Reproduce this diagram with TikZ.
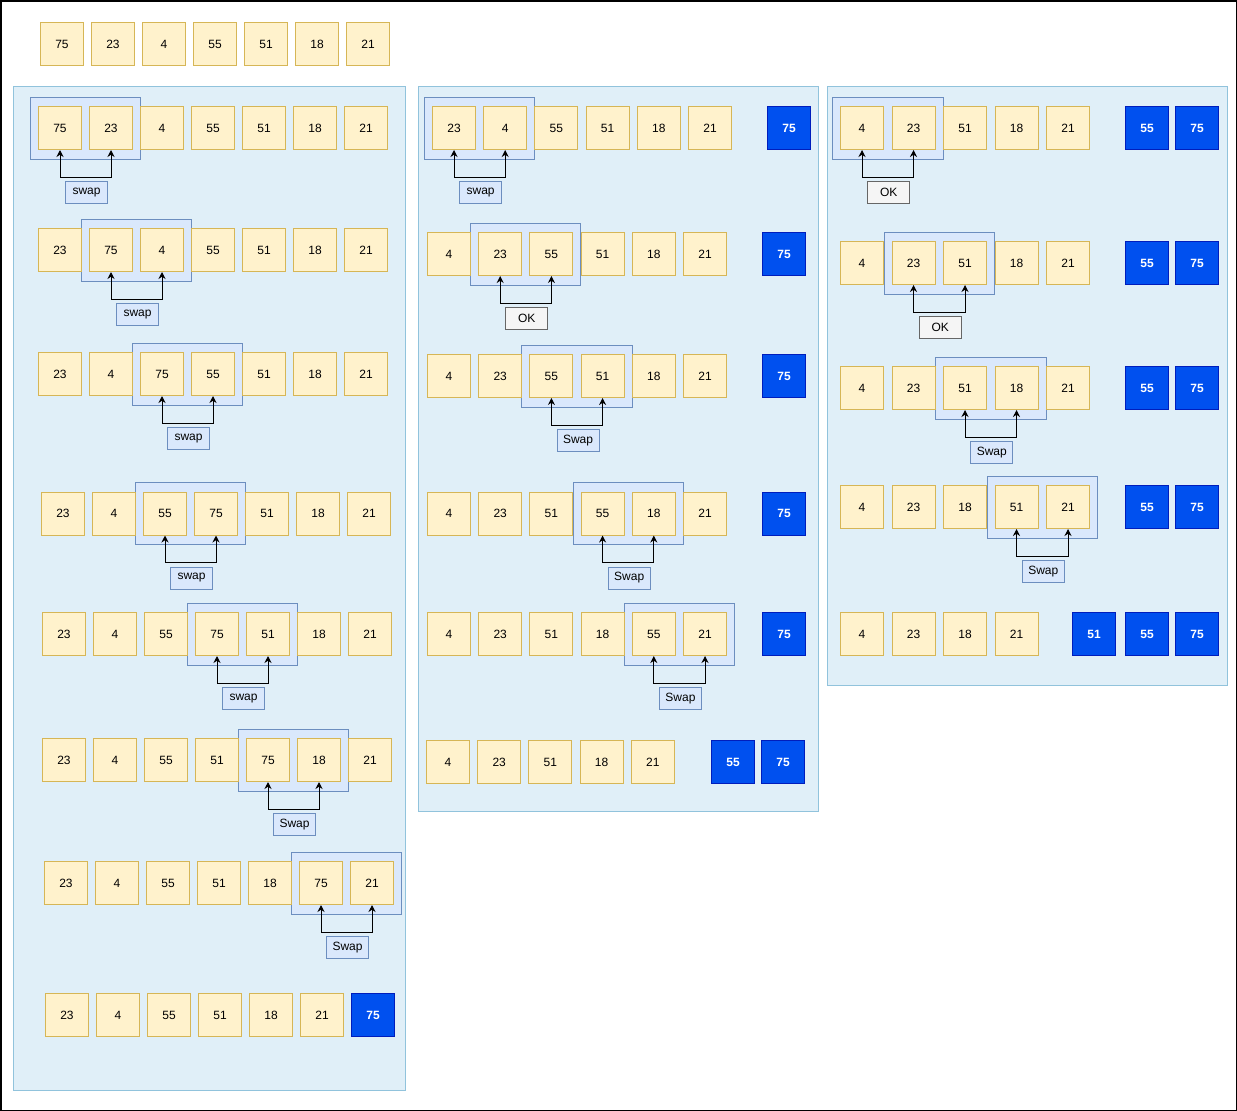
\documentclass[tikz,border=0pt]{standalone}
\usepackage{fontspec}
\setmainfont{Liberation Sans}
\usepackage{tikz}
\usetikzlibrary{arrows.meta}
\usetikzlibrary{fit}
\usetikzlibrary{positioning}
\definecolor{numfill}{HTML}{FFF2CC}
\definecolor{numline}{HTML}{D6B656}
\definecolor{finfill}{HTML}{0050EF}
\definecolor{finline}{HTML}{001DBC}
\definecolor{pairfill}{HTML}{DAE8FC}
\definecolor{pairline}{HTML}{6C8EBF}
\definecolor{okfill}{HTML}{F5F5F5}
\definecolor{okline}{HTML}{666666}
\definecolor{panelfill}{RGB}{224,239,248}
\definecolor{panelline}{RGB}{145,195,220}
\pgfdeclarelayer{back}
\pgfsetlayers{back,main}
\tikzstyle{num}=[draw=numline,fill=numfill,line width=1pt,minimum size=43pt,inner sep=0pt,font=\fontsize{12}{14}\selectfont]
\tikzstyle{fin}=[num,draw=finline,fill=finfill,text=white,font=\fontsize{12}{14}\selectfont\bfseries]
\tikzstyle{pair}=[draw=pairline,fill=pairfill,line width=1pt,inner xsep=7.5pt,inner ysep=9pt]
\tikzstyle{note}=[draw,line width=1pt,minimum width=42pt,minimum height=22pt,inner xsep=5pt,inner ysep=0pt,font=\fontsize{12}{14}\selectfont]
\tikzstyle{swp}=[note,draw=pairline,fill=pairfill]
\tikzstyle{ok}=[note,draw=okline,fill=okfill]
\tikzstyle{lnk}=[line width=1pt,{Stealth[length=7pt,width=7pt]}-{Stealth[length=7pt,width=7pt]}]
\tikzstyle{panel}=[draw=panelline,fill=panelfill,line width=1pt]
% one row of unsorted values, one row of sorted values, one comparison
\newcommand\numrow[5][51]{\foreach \v [count=\i] in {#5}
  \node[num] (#2-\i) at ({#3+#1*(\i-1)},#4) {\v};}
\newcommand\finrow[3]{\foreach \x/\v [count=\i] in {#3}
  \node[fin] (#1-f\i) at (\x,#2) {\v};}
\newcommand\cmp[5]{%
  \begin{pgfonlayer}{back}\node[pair,fit=(#1-#2)(#1-#3)] (#1-p) {};\end{pgfonlayer}
  \draw[lnk] (#1-#2.south) -- ++(0,27) -| node[pos=.26,below=4pt,#5] (#1-n) {#4} (#1-#3.south);}
\begin{document}
\begin{tikzpicture}[x=1pt,y=-1pt]
	\useasboundingbox (0,0) rectangle (1237,1111);
	\draw[line width=1.5pt] (0.75,0.75) rectangle (1236.25,1110.25);
	\begin{pgfonlayer}{back}
	  \draw[panel] (13.5,86.5) rectangle (405.5,1090);
	  \draw[panel] (418.5,86.5) rectangle (818.5,811);
	  \draw[panel] (827.5,86.5) rectangle (1227.5,685.5);
	\end{pgfonlayer}
	\numrow{t}{62}{44}{75,23,4,55,51,18,21}
	% first pass
	\numrow{a1}{60}{128}{75,23,4,55,51,18,21}   \cmp{a1}{1}{2}{swap}{swp}
	\numrow{a2}{60}{250}{23,75,4,55,51,18,21}   \cmp{a2}{2}{3}{swap}{swp}
	\numrow{a3}{60}{374}{23,4,75,55,51,18,21}   \cmp{a3}{3}{4}{swap}{swp}
	\numrow{a4}{63}{513.5}{23,4,55,75,51,18,21} \cmp{a4}{3}{4}{swap}{swp}
	\numrow{a5}{64}{634}{23,4,55,75,51,18,21}   \cmp{a5}{4}{5}{swap}{swp}
	\numrow{a6}{64}{760}{23,4,55,51,75,18,21}   \cmp{a6}{5}{6}{Swap}{swp}
	\numrow{a7}{66}{883}{23,4,55,51,18,75,21}   \cmp{a7}{6}{7}{Swap}{swp}
	\numrow{a8}{67}{1015}{23,4,55,51,18,21}     \finrow{a8}{1015}{373/75}
	% second pass
	\numrow[51.2]{b1}{454}{128}{23,4,55,51,18,21}   \finrow{b1}{128}{789/75}   \cmp{b1}{1}{2}{swap}{swp}
	\numrow[51.2]{b2}{449}{254}{4,23,55,51,18,21}   \finrow{b2}{254}{784/75}   \cmp{b2}{2}{3}{OK}{ok}
	\numrow[51.2]{b3}{449}{376}{4,23,55,51,18,21}   \finrow{b3}{376}{784/75}   \cmp{b3}{3}{4}{Swap}{swp}
	\numrow[51.2]{b4}{449}{513.5}{4,23,51,55,18,21} \finrow{b4}{513.5}{784/75} \cmp{b4}{4}{5}{Swap}{swp}
	\numrow[51.2]{b5}{449}{634}{4,23,51,18,55,21}   \finrow{b5}{634}{784/75}   \cmp{b5}{5}{6}{Swap}{swp}
	\numrow[51.2]{b6}{448}{762}{4,23,51,18,21}      \finrow{b6}{762}{733/55,783/75}
	% third pass
	\numrow[51.5]{c1}{862}{128}{4,23,51,18,21} \finrow{c1}{128}{1147/55,1197/75} \cmp{c1}{1}{2}{OK}{ok}
	\numrow[51.5]{c2}{862}{263}{4,23,51,18,21} \finrow{c2}{263}{1147/55,1197/75} \cmp{c2}{2}{3}{OK}{ok}
	\numrow[51.5]{c3}{862}{388}{4,23,51,18,21} \finrow{c3}{388}{1147/55,1197/75} \cmp{c3}{3}{4}{Swap}{swp}
	\numrow[51.5]{c4}{862}{507}{4,23,18,51,21} \finrow{c4}{507}{1147/55,1197/75} \cmp{c4}{4}{5}{Swap}{swp}
	\numrow[51.5]{c5}{862}{634}{4,23,18,21}    \finrow{c5}{634}{1094/51,1147/55,1197/75}
\end{tikzpicture}
\end{document}
